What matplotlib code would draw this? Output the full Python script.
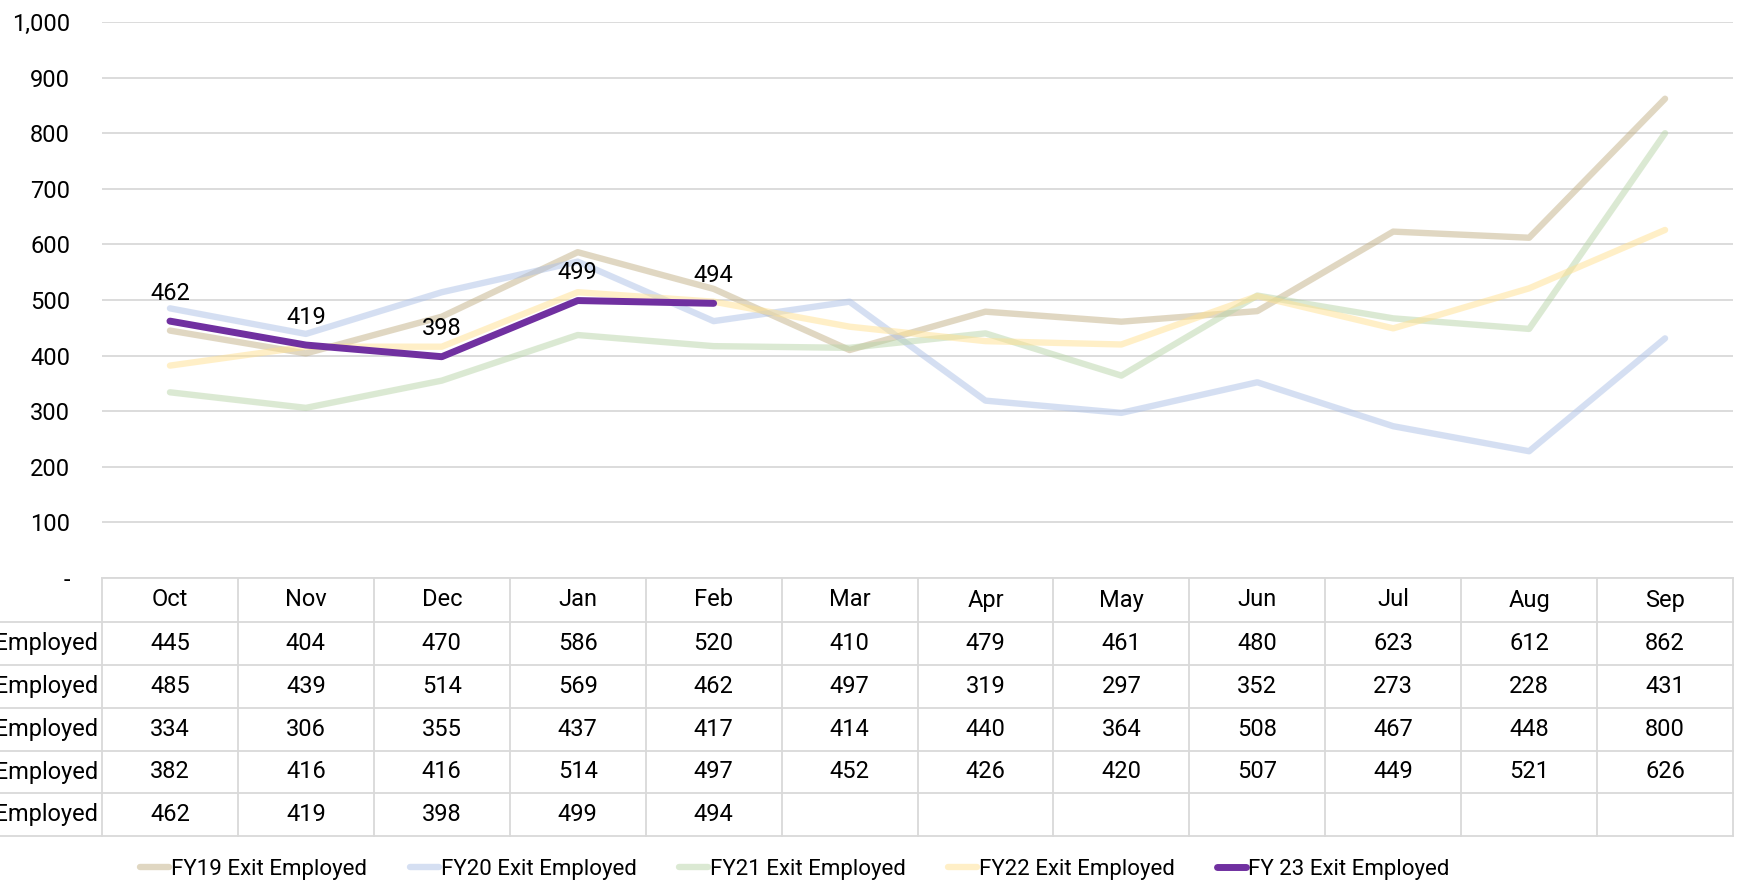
import matplotlib
matplotlib.use("Agg")
import matplotlib.pyplot as plt
from matplotlib.lines import Line2D

months = ["Oct", "Nov", "Dec", "Jan", "Feb", "Mar", "Apr", "May", "Jun", "Jul", "Aug", "Sep"]
fy19 = [445, 404, 470, 586, 520, 410, 479, 461, 480, 623, 612, 862]
fy20 = [485, 439, 514, 569, 462, 497, 319, 297, 352, 273, 228, 431]
fy21 = [334, 306, 355, 437, 417, 414, 440, 364, 508, 467, 448, 800]
fy22 = [382, 416, 416, 514, 497, 452, 426, 420, 507, 449, 521, 626]
fy23 = [462, 419, 398, 499, 494]

series_names = ["FY19 Exit Employed", "FY20 Exit Employed", "FY21 Exit Employed",
                "FY22 Exit Employed", "FY 23 Exit Employed"]
series_vals = [fy19, fy20, fy21, fy22, fy23]
y_ticks = [0, 100, 200, 300, 400, 500, 600, 700, 800, 900, 1000]
y_labels = ["-", "100", "200", "300", "400", "500", "600", "700", "800", "900", "1,000"]

colors = ["#c3b187", "#adc1e7", "#b9d5a9", "#ffe191", "#7030a0"]
alphas = [0.5, 0.5, 0.5, 0.5, 1.0]
widths = [4.6, 4.6, 4.6, 4.6, 5.0]

plt.rcParams["font.family"] = ["Roboto", "DejaVu Sans"]
FS = 17
W, H = 1742, 894
fig = plt.figure(figsize=(W / 100, H / 100), dpi=100)

left, right, top, bottom = 102, 1733, 22, 578
ax = fig.add_axes([left / W, 1 - bottom / H, (right - left) / W, (bottom - top) / H])
n = len(months)
x = list(range(n))

for name, vals, c, a, lw in zip(series_names, series_vals, colors, alphas, widths):
    ax.plot(x[:len(vals)], vals, color=c, alpha=a, lw=lw, solid_capstyle="round",
            solid_joinstyle="round", label=name)

for xi, v in zip(x, fy23):
    ax.annotate(str(v), (xi, v), xytext=(0, 20), textcoords="offset points",
                ha="center", va="center", fontsize=FS, color="#000000")

ax.set_xlim(-0.5, n - 0.5)
ax.set_ylim(0, 1000)
ax.set_yticks(y_ticks)
ax.set_yticklabels(y_labels)
ax.set_xticks([])
ax.tick_params(axis="y", length=0, pad=23, labelsize=FS)
ax.grid(axis="y", color="#d9d9d9", lw=1.3)
ax.set_axisbelow(True)
for s in ax.spines.values():
    s.set_visible(False)

# data table under the plot, in axes fraction coordinates
ph = bottom - top
rows_px = [578, 622, 665, 708, 751, 793, 836]
ry = [-(r - bottom) / ph for r in rows_px]
lx = -left / (right - left)
grid_c = "#d9d9d9"
tr = ax.transAxes
ax.add_line(Line2D([0, 1], [ry[0], ry[0]], transform=tr, color=grid_c, lw=1.3, clip_on=False))
for yy in ry[1:]:
    ax.add_line(Line2D([lx, 1], [yy, yy], transform=tr, color=grid_c, lw=1.3, clip_on=False))
for k in range(n + 1):
    xx = k / n
    ax.add_line(Line2D([xx, xx], [ry[0], ry[-1]], transform=tr, color=grid_c, lw=1.3, clip_on=False))

for k, m in enumerate(months):
    ax.text((k + 0.5) / n, (ry[0] + ry[1]) / 2, m, transform=tr, ha="center", va="center",
            fontsize=FS, clip_on=False)
for r, (name, vals) in enumerate(zip(series_names, series_vals)):
    yc = (ry[r + 1] + ry[r + 2]) / 2
    ax.text(-4 / (right - left), yc, name, transform=tr, ha="right", va="center",
            fontsize=FS, clip_on=False)
    for k, v in enumerate(vals):
        ax.text((k + 0.5) / n, yc, str(v), transform=tr, ha="center", va="center",
                fontsize=FS, clip_on=False)

handles = [Line2D([], [], color=c, alpha=a, lw=lw, solid_capstyle="round")
           for c, a, lw in zip(colors, alphas, widths)]
fig.legend(handles, series_names, loc="center", bbox_to_anchor=(795 / W, 1 - 869 / H),
           ncol=5, frameon=False, fontsize=16, handlelength=1.3, handletextpad=0.1,
           columnspacing=1.9)

fig.savefig("out.png", dpi=100)
